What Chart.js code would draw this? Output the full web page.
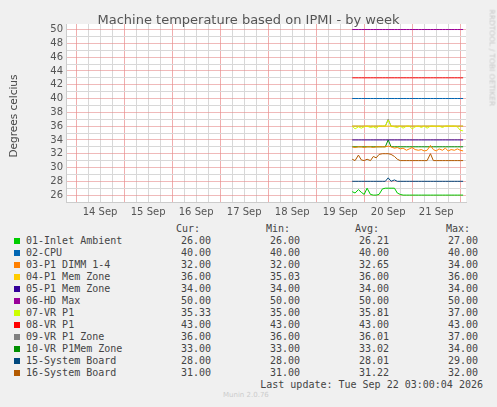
<!DOCTYPE html>
<html><head><meta charset="utf-8">
<script src="https://cdn.jsdelivr.net/npm/chart.js@4"></script>
<style>
body{margin:0;background:#f0f0f0;width:497px;height:407px;overflow:hidden;position:relative;font-family:"DejaVu Sans Mono",monospace;}
#wrap{position:absolute;left:0;top:0;width:497px;height:222px;}
.t{position:absolute;font-size:10px;color:#444;white-space:pre;line-height:12px;}
.sw{position:absolute;width:6px;height:6px;}
#ttl{position:absolute;top:12px;left:0;width:497px;text-align:center;font:13px "DejaVu Sans",sans-serif;color:#555;}
#ylab{position:absolute;left:-37px;top:110px;width:100px;transform:rotate(-90deg);text-align:center;font:10.5px "DejaVu Sans",sans-serif;color:#444;}
#rrd{position:absolute;left:437px;top:60px;width:110px;transform:rotate(90deg);font:7.5px "DejaVu Sans",sans-serif;color:#c8c8c8;}
</style></head><body>
<div id="wrap"><canvas id="c" width="497" height="222"></canvas></div>
<div id="ttl">Machine temperature based on IPMI - by week</div>
<div id="ylab">Degrees celcius</div>
<div id="rrd">RRDTOOL / TOBI OETIKER</div>
<div id="leg"></div>
<script>
// --- Data ---
const times = [19.75,19.81,19.88,19.94,20.00,20.06,20.13,20.19,20.25,20.31,20.38,20.44,20.50,20.56,20.63,20.69,20.75,20.81,20.88,20.94,21.00,21.06,21.13,21.19,21.25,21.31,21.38,21.44,21.50,21.56,21.63,21.69,21.75,21.81,21.88,21.94,22.00,22.06];
const inlet   = [26.5,26.3,26.8,26.4,26.1,27.0,26.1,26.0,26.0,26.1,26.9,27.0,27.0,27.0,27.0,26.3,26.1,26.0,26.0,26.0,26.0,26.0,26.0,26.0,26.0,26.0,26.0,26.0,26.0,26.0,26.0,26.0,26.0,26.0,26.0,26.0,26.0,26.0];
const cpu     = times.map(() => 40);
const dimm    = [33.0,32.9,33.0,33.0,32.9,33.0,33.0,32.9,33.0,33.0,33.0,33.0,33.1,33.0,32.8,32.9,32.7,32.8,32.5,32.7,32.9,32.6,32.5,32.6,32.4,32.5,33.2,32.6,32.4,32.7,32.5,32.8,32.4,32.6,32.5,32.7,32.5,32.4];
const memZone = times.map(() => 36);
const memZ5   = times.map(() => 34);
const hdMax   = times.map(() => 50);
const vr07    = [36.0,35.6,35.9,35.7,35.9,36.0,35.8,35.9,35.7,36.0,36.0,36.0,36.9,36.0,35.9,35.8,36.0,35.7,36.0,36.0,35.6,35.9,36.0,35.8,36.0,35.7,36.0,36.0,35.9,36.0,35.8,36.0,36.0,36.0,36.0,35.9,35.4,35.3];
const vr08    = times.map(() => 43);
const vrZone  = [36,36,36,36,36,36,36,36,36,36,36,36,37,36,36,36,36,36,36,36,36,36,36,36,36,36,36,36,36,36,36,36,36,36,36,36,36,36];
const vrMem   = [33,33,33,33,33,33,33,33,33,33,33,33,34,33,33,33,33,33,33,33,33,33,33,33,33,33,33,33,33,33,33,33,33,33,33,33,33,33];
const sys15   = [28,28,28,28,28,28,28,28,28,28,28,28,28.5,28,28.2,28,28,28,28,28,28,28,28,28,28,28,28,28,28,28,28,28,28,28,28,28,28,28];
const sys16   = [31.2,31.0,31.8,31.1,31.0,31.2,31.0,31.6,31.4,31.9,32.0,32.0,32.0,31.9,31.6,31.2,31.0,31.0,31.0,31.0,31.0,31.0,31.0,31.0,31.0,31.0,32.0,31.0,31.0,31.0,31.0,31.0,31.0,31.0,31.0,31.0,31.0,31.0];

const names  = ['01-Inlet Ambient','02-CPU','03-P1 DIMM 1-4','04-P1 Mem Zone','05-P1 Mem Zone','06-HD Max','07-VR P1','08-VR P1','09-VR P1 Zone','10-VR P1Mem Zone','15-System Board','16-System Board'];
const colors = ['#00cc00','#0066b3','#ff8000','#ffcc00','#330099','#990099','#ccff00','#ff0000','#808080','#008f00','#00487d','#b35a00'];
const series = [inlet,cpu,dimm,memZone,memZ5,hdMax,vr07,vr08,vrZone,vrMem,sys15,sys16];
const curV = ['26.00','40.00','32.00','36.00','34.00','50.00','35.33','43.00','36.00','33.00','28.00','31.00'];
const minV = ['26.00','40.00','32.00','35.03','34.00','50.00','35.00','43.00','36.00','33.00','28.00','31.00'];
const avgV = ['26.21','40.00','32.65','36.00','34.00','50.00','35.81','43.00','36.01','33.02','28.01','31.22'];
const maxV = ['27.00','40.00','34.00','36.00','34.00','50.00','37.00','43.00','37.00','34.00','29.00','32.00'];
const yTicks = [26,28,30,32,34,36,38,40,42,44,46,48,50];
const dayLabels = ['14 Sep','15 Sep','16 Sep','17 Sep','18 Sep','19 Sep','20 Sep','21 Sep'];

// --- Chart ---
new Chart(document.getElementById('c'), {
  type: 'line',
  data: {
    datasets: series.map((s, i) => ({
      data: s.map((v, j) => ({ x: times[j], y: v })),
      borderColor: colors[i], borderWidth: 1, pointRadius: 0, fill: false,
    }))
  },
  options: {
    animation: false, responsive: false,
    layout: { padding: { top: 24, right: 31, left: 0 } },
    plugins: { legend: { display: false }, tooltip: { enabled: false } },
    scales: {
      x: {
        type: 'linear', min: 13.79, max: 22.12,
        afterBuildTicks: ax => { const t = []; for (let d = 13.75; d <= 22.12; d += 0.25) if (d >= 13.79) t.push({ value: d }); ax.ticks = t; },
        grid: { color: c => Number.isInteger(c.tick.value) ? 'rgba(230,120,120,0.6)' : '#d8d8d8', lineWidth: 1, drawTicks: false, borderDash: [1, 2] },
        border: { color: '#ccc' },
        ticks: { autoSkip: false, maxRotation: 0, color: '#555', font: { family: 'DejaVu Sans', size: 10 }, padding: 4,
          callback: v => { const k = v - 14.5; return Math.abs(k - Math.round(k)) < 0.01 ? dayLabels[Math.round(k)] : ''; } }
      },
      y: {
        min: 25, max: 50.8,
        afterBuildTicks: ax => { const t = []; for (let v = 25; v <= 50; v++) t.push({ value: v }); ax.ticks = t; },
        afterFit: ax => { ax.width = 66; },
        grid: { color: c => c.tick.value % 2 === 0 ? 'rgba(230,140,140,0.6)' : '#d8d8d8', drawTicks: false, borderDash: [1, 2] },
        border: { color: '#ccc' },
        ticks: { autoSkip: false, color: '#555', font: { family: 'DejaVu Sans', size: 10 }, padding: 3,
          callback: v => yTicks.includes(v) ? String(v) : '' }
      }
    }
  },
  plugins: [{ id: 'bg', beforeDraw: ch => { const a = ch.chartArea, g = ch.ctx; g.save(); g.fillStyle = '#fff'; g.fillRect(a.left, a.top, a.right - a.left, a.bottom - a.top); g.restore(); } }]
});

// --- Legend ---
const leg = document.getElementById('leg');
function txt(s, x, y, right, color) {
  const d = document.createElement('div'); d.className = 't'; d.textContent = s;
  d.style.top = y + 'px';
  if (right) d.style.right = (497 - x) + 'px'; else d.style.left = x + 'px';
  if (color) d.style.color = color;
  leg.appendChild(d);
}
txt('Cur:', 200, 223, true); txt('Min:', 290, 223, true); txt('Avg:', 379, 223, true); txt('Max:', 470, 223, true);
names.forEach((n, i) => {
  const y = 235 + i * 12;
  const s = document.createElement('div'); s.className = 'sw'; s.style.left = '14px'; s.style.top = (y + 3) + 'px'; s.style.background = colors[i]; leg.appendChild(s);
  txt(n, 26, y); txt(curV[i], 211, y, true); txt(minV[i], 300, y, true); txt(avgV[i], 389, y, true); txt(maxV[i], 478, y, true);
});
txt('Last update: Tue Sep 22 03:00:04 2026', 483, 379, true);
const m = document.createElement('div'); m.className = 't'; m.textContent = 'Munin 2.0.76';
m.style.cssText = 'left:223px;top:391px;font:7px "DejaVu Sans",sans-serif;color:#ccc;'; leg.appendChild(m);
</script>
</body></html>
